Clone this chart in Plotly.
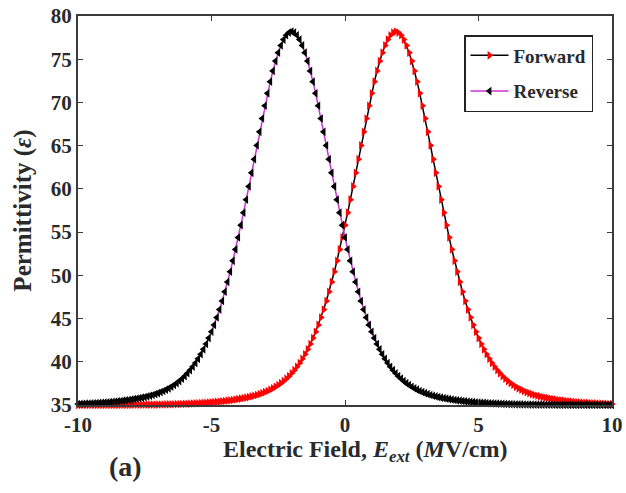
import numpy as np
import plotly.graph_objects as go

# Electric field grid (MV/cm)
E_field = np.round(np.linspace(-10, 10, 201), 1)

# Permittivity
forward_eps = [
    35.00, 35.00, 35.00, 35.00, 35.00, 35.00, 35.00, 35.00, 35.01, 35.01,
    35.01, 35.01, 35.01, 35.01, 35.01, 35.01, 35.02, 35.02, 35.02, 35.02,
    35.02, 35.03, 35.03, 35.03, 35.03, 35.04, 35.04, 35.04, 35.05, 35.05,
    35.05, 35.06, 35.06, 35.07, 35.08, 35.08, 35.09, 35.10, 35.11, 35.12,
    35.13, 35.14, 35.15, 35.17, 35.18, 35.20, 35.22, 35.24, 35.26, 35.28,
    35.30, 35.33, 35.36, 35.39, 35.42, 35.46, 35.50, 35.54, 35.58, 35.63,
    35.68, 35.73, 35.79, 35.85, 35.92, 35.99, 36.07, 36.16, 36.26, 36.37,
    36.49, 36.62, 36.77, 36.93, 37.11, 37.31, 37.53, 37.77, 38.05, 38.34,
    38.67, 39.03, 39.43, 39.86, 40.34, 40.87, 41.44, 42.06, 42.74, 43.47,
    44.26, 45.12, 46.04, 47.03, 48.10, 49.23, 50.42, 51.68, 53.00, 54.38,
    55.80, 57.25, 58.75, 60.29, 61.86, 63.44, 65.03, 66.60, 68.14, 69.62,
    71.05, 72.40, 73.65, 74.78, 75.76, 76.60, 77.27, 77.77, 78.08,
    78.20,
    78.08, 77.77, 77.27, 76.60, 75.76, 74.78, 73.65, 72.40, 71.05, 69.62,
    68.14, 66.60, 65.03, 63.44, 61.86, 60.29, 58.75, 57.25, 55.80, 54.38,
    53.00, 51.68, 50.42, 49.23, 48.10, 47.03, 46.04, 45.12, 44.26, 43.47,
    42.74, 42.06, 41.44, 40.87, 40.34, 39.86, 39.43, 39.03, 38.67, 38.34,
    38.05, 37.77, 37.53, 37.31, 37.11, 36.93, 36.77, 36.62, 36.49, 36.37,
    36.26, 36.16, 36.07, 35.99, 35.92, 35.85, 35.79, 35.73, 35.68, 35.63,
    35.58, 35.54, 35.50, 35.46, 35.42, 35.39, 35.36, 35.33, 35.30, 35.28,
    35.26, 35.24, 35.22, 35.20, 35.18, 35.17, 35.15, 35.14, 35.13, 35.12,
    35.11,
]

reverse_eps = [
    35.12, 35.13, 35.14, 35.15, 35.17, 35.18, 35.20, 35.22, 35.24, 35.26,
    35.28, 35.30, 35.33, 35.36, 35.39, 35.42, 35.46, 35.50, 35.54, 35.58,
    35.63, 35.68, 35.73, 35.79, 35.85, 35.92, 35.99, 36.07, 36.16, 36.26,
    36.37, 36.49, 36.62, 36.77, 36.93, 37.11, 37.31, 37.53, 37.77, 38.05,
    38.34, 38.67, 39.03, 39.43, 39.86, 40.34, 40.87, 41.44, 42.06, 42.74,
    43.47, 44.26, 45.12, 46.04, 47.03, 48.10, 49.23, 50.42, 51.68, 53.00,
    54.38, 55.80, 57.25, 58.75, 60.29, 61.86, 63.44, 65.03, 66.60, 68.14,
    69.62, 71.05, 72.40, 73.65, 74.78, 75.76, 76.60, 77.27, 77.77, 78.08,
    78.20,
    78.08, 77.77, 77.27, 76.60, 75.76, 74.78, 73.65, 72.40, 71.05, 69.62,
    68.14, 66.60, 65.03, 63.44, 61.86, 60.29, 58.75, 57.25, 55.80, 54.38,
    53.00, 51.68, 50.42, 49.23, 48.10, 47.03, 46.04, 45.12, 44.26, 43.47,
    42.74, 42.06, 41.44, 40.87, 40.34, 39.86, 39.43, 39.03, 38.67, 38.34,
    38.05, 37.77, 37.53, 37.31, 37.11, 36.93, 36.77, 36.62, 36.49, 36.37,
    36.26, 36.16, 36.07, 35.99, 35.92, 35.85, 35.79, 35.73, 35.68, 35.63,
    35.58, 35.54, 35.50, 35.46, 35.42, 35.39, 35.36, 35.33, 35.30, 35.28,
    35.26, 35.24, 35.22, 35.20, 35.18, 35.17, 35.15, 35.14, 35.13, 35.12,
    35.11, 35.10, 35.09, 35.08, 35.08, 35.07, 35.06, 35.06, 35.05, 35.05,
    35.05, 35.04, 35.04, 35.04, 35.03, 35.03, 35.03, 35.03, 35.02, 35.02,
    35.02, 35.02, 35.02, 35.01, 35.01, 35.01, 35.01, 35.01, 35.01, 35.01,
    35.01, 35.00, 35.00, 35.00, 35.00, 35.00, 35.00, 35.00, 35.00, 35.00,
]

x_tick_vals = [-10, -5, 0, 5, 10]
x_tick_text = ["-10", "-5", "0", "5", "10"]
y_tick_vals = [35, 40, 45, 50, 55, 60, 65, 70, 75, 80]
y_tick_text = ["35", "40", "45", "50", "55", "60", "65", "70", "75", "80"]

FONT = "Liberation Serif"
AXIS_COLOR = "#3a3a3a"
TEXT_COLOR = "#2a2a2a"

FIG_W, FIG_H = 626, 493
PLOT_L, PLOT_R, PLOT_T, PLOT_B = 78, 612, 16, 405  # pixels
PW, PH = PLOT_R - PLOT_L, PLOT_B - PLOT_T


def px_x(p):
    return (p - PLOT_L) / PW


def px_y(p):
    return (PLOT_B - p) / PH


fig = go.Figure()
fig.add_trace(go.Scatter(
    x=E_field, y=forward_eps, name="Forward", mode="lines+markers",
    legendgroup="f",
    line=dict(color="black", width=1.5),
    marker=dict(symbol="triangle-right", size=7.5, color="#ff0000",
                line=dict(width=0)),
    cliponaxis=False,
))
fig.add_trace(go.Scatter(
    x=E_field, y=reverse_eps, name="Reverse", mode="lines+markers",
    legendgroup="r",
    line=dict(color="#cc33d6", width=1.5),
    marker=dict(symbol="triangle-left", size=7.5, color="black",
                line=dict(width=0)),
    cliponaxis=False,
))

axis_common = dict(
    showline=True, linecolor=AXIS_COLOR, linewidth=2, mirror="ticks",
    ticks="inside", ticklen=5, tickwidth=1.2, tickcolor=AXIS_COLOR,
    showgrid=False, zeroline=False, automargin=False,
    tickfont=dict(family=FONT, size=21, color=TEXT_COLOR, weight="bold"),
)

fig.update_xaxes(
    range=[-10, 10], tickmode="array", tickvals=x_tick_vals, ticktext=x_tick_text,
    ticklabelstandoff=0,
    **axis_common,
)
fig.update_yaxes(
    range=[35, 80], tickmode="array", tickvals=y_tick_vals, ticktext=y_tick_text,
    title=dict(text="Permittivity (<i>ε</i>)",
               font=dict(family=FONT, size=25, color=TEXT_COLOR, weight="bold"),
               standoff=12),
    **axis_common,
)

fig.update_layout(
    width=FIG_W, height=FIG_H,
    margin=dict(l=PLOT_L, r=FIG_W - PLOT_R, t=PLOT_T, b=FIG_H - PLOT_B),
    plot_bgcolor="white", paper_bgcolor="white",
    showlegend=True,
    legend=dict(
        x=px_x(593), y=px_y(35), xanchor="right", yanchor="top",
        bgcolor="white", bordercolor="#222", borderwidth=1.5,
        font=dict(family=FONT, size=19, color=TEXT_COLOR, weight="bold"),
        tracegroupgap=8, itemwidth=38,
    ),
    annotations=[
        dict(text="Electric Field, <i>E</i><sub><i>ext</i></sub> (<i>M</i>V/cm)",
             x=px_x(365), y=px_y(451), xref="paper", yref="paper",
             xanchor="center", yanchor="middle", showarrow=False,
             font=dict(family=FONT, size=24, color=TEXT_COLOR, weight="bold")),
        dict(text="(a)", x=px_x(125), y=px_y(466),
             xref="paper", yref="paper", xanchor="center", yanchor="middle",
             showarrow=False,
             font=dict(family=FONT, size=28, color=TEXT_COLOR, weight="bold")),
    ],
)

fig.write_html(
    "out.html",
    config={"displayModeBar": False},
    post_script="document.body.style.margin='0';document.body.style.overflow='hidden';",
)
